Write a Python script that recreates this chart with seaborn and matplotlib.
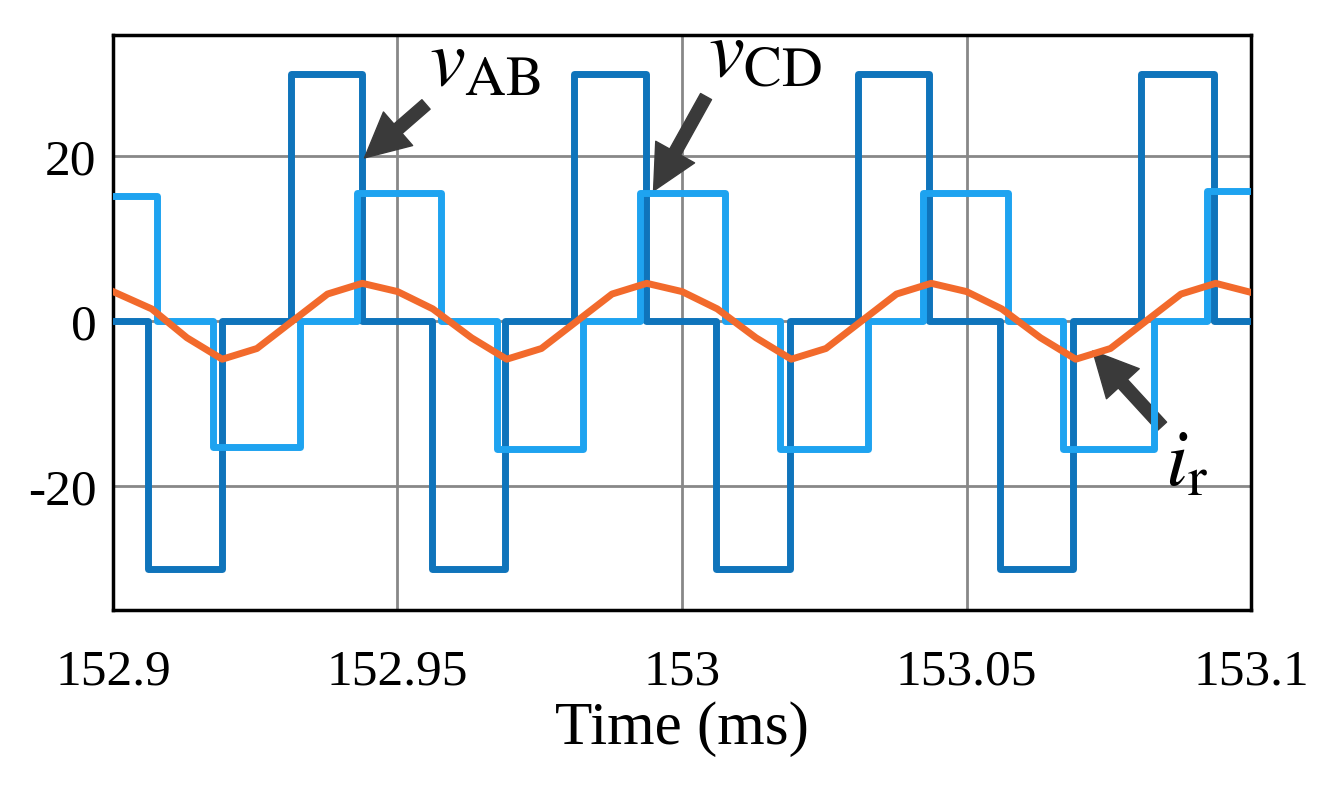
import matplotlib
matplotlib.use("Agg")
import matplotlib.pyplot as plt
import seaborn as sns
import numpy as np

plt.rcParams["font.family"] = "Liberation Serif"
plt.rcParams["mathtext.fontset"] = "stix"

# step signals: change times (ms) and levels after each time
vab_t = [152.9, 152.9062, 152.9192, 152.9313, 152.9438, 152.9561, 152.9689, 152.9810, 152.9936,
         153.0060, 153.0190, 153.0310, 153.0434, 153.0559, 153.0687, 153.0807, 153.0935, 153.1]
vab_v = [0, -30, 0, 30, 0, -30, 0, 30, 0, -30, 0, 30, 0, -30, 0, 30, 0, 0]

vcd_t = [152.9, 152.9077, 152.9176, 152.9329, 152.9429, 152.9576, 152.9675, 152.9826, 152.9926,
         153.0076, 153.0172, 153.0327, 153.0424, 153.0573, 153.0670, 153.0830, 153.0923, 153.1]
vcd_v = [15.2, 0, -15.2, 0, 15.5, 0, -15.5, 0, 15.5, 0, -15.5, 0, 15.5, 0, -15.5, 0, 15.8, 15.8]

ir_t = [152.9, 152.9068, 152.9130, 152.9192, 152.9253, 152.9315, 152.9377, 152.9438, 152.9500,
        152.9562, 152.9630, 152.9692, 152.9753, 152.9815, 152.9877, 152.9938, 153.0000, 153.0062,
        153.0130, 153.0192, 153.0253, 153.0315, 153.0377, 153.0438, 153.0500, 153.0562, 153.0630,
        153.0692, 153.0753, 153.0815, 153.0877, 153.0938, 153.1]
ir_v = [3.6, 1.5, -2.0, -4.6, -3.3, 0.0, 3.3, 4.6, 3.6, 1.5, -2.0, -4.6, -3.3, 0.0, 3.3, 4.6, 3.6,
        1.5, -2.0, -4.6, -3.3, 0.0, 3.3, 4.6, 3.6, 1.5, -2.0, -4.6, -3.3, 0.0, 3.3, 4.6, 3.5]

xticks = [152.9, 152.95, 153.0, 153.05, 153.1]
xlabels = ["152.9", "152.95", "153", "153.05", "153.1"]
yticks = [-20, 0, 20]

fig = plt.figure(figsize=(13.31, 7.97), dpi=100)
ax = fig.add_axes([113/1331, 1-610/797, (1251-113)/1331, (610-35)/797])

sns.lineplot(x=vab_t, y=vab_v, ax=ax, drawstyle="steps-post", color="#0f74bb", estimator=None, zorder=3)
sns.lineplot(x=vcd_t, y=vcd_v, ax=ax, drawstyle="steps-post", color="#1ea3f0", estimator=None, zorder=4)
sns.lineplot(x=ir_t, y=ir_v, ax=ax, color="#f26a2c", estimator=None, zorder=5)
for ln in ax.lines:
    ln.set_linewidth(5)
    ln.set_solid_joinstyle("round")

ax.set_xlim(152.9, 153.1)
ax.set_ylim(-35, 34.7)
ax.set_xticks(xticks)
ax.set_xticklabels(xlabels)
ax.set_yticks(yticks)
ax.set_yticklabels([str(v) for v in yticks])
ax.tick_params(length=0, labelsize=37, pad=12)
ax.tick_params(axis="x", pad=28)
ax.grid(True, color="#888888", lw=2)
ax.set_axisbelow(True)
for s in ax.spines.values():
    s.set_linewidth(2.5)
ax.set_xlabel("Time (ms)", fontsize=44, labelpad=4)

arrow = dict(facecolor="#3a3a3a", edgecolor="#3a3a3a", width=9, headwidth=32, headlength=32)
ax.annotate(r"$v_{\mathrm{AB}}$", xy=(152.9442, 19.8), xytext=(152.9555, 31.0), fontsize=58,
            arrowprops=arrow, ha="left", va="center")
ax.annotate(r"$v_{\mathrm{CD}}$", xy=(152.9950, 15.8), xytext=(153.0045, 32.0), fontsize=58,
            arrowprops=arrow, ha="left", va="center")
ax.annotate(r"$i_{\mathrm{r}}$", xy=(153.0722, -3.6), xytext=(153.0848, -17.5), fontsize=58,
            arrowprops=arrow, ha="left", va="center")

fig.savefig("out.png", dpi=100)
